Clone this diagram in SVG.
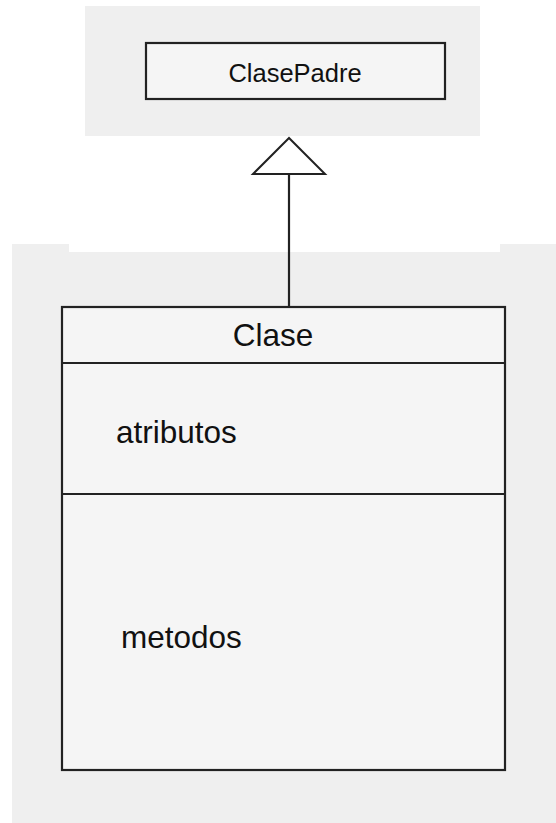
<svg xmlns="http://www.w3.org/2000/svg" width="556" height="823" viewBox="0 0 556 823">
  <style>
    .panel { fill: #efefef; }
    .box { fill: #f5f5f5; stroke: #222222; stroke-width: 2.2; }
    .rule { stroke: #222222; stroke-width: 2.2; fill: none; }
    .lbl { font-family: "Liberation Sans", Arial, sans-serif; fill: #111; }
  </style>
  <rect width="556" height="823" fill="#ffffff"/>

  <!-- background panels -->
  <rect class="panel" x="85" y="6" width="395" height="130"/>
  <path class="panel" d="M12 244 H69 V252 H500 V244 H556 V823 H12 Z"/>

  <!-- parent class -->
  <g id="clase-padre">
    <rect class="box" x="146" y="43" width="299" height="56"/>
    <text class="lbl" x="295" y="82" font-size="25.5" text-anchor="middle">ClasePadre</text>
  </g>

  <!-- child class with attribute and method compartments -->
  <g id="clase">
    <rect class="box" x="62" y="307" width="443" height="463"/>
    <line class="rule" x1="62" y1="363" x2="505" y2="363"/>
    <line class="rule" x1="62" y1="494" x2="505" y2="494"/>
    <text class="lbl" x="273" y="346" font-size="31.5" text-anchor="middle">Clase</text>
    <text class="lbl" x="116" y="443" font-size="31.5">atributos</text>
    <text class="lbl" x="121" y="648" font-size="31.5">metodos</text>
  </g>

  <!-- generalization connector -->
  <g id="connectors">
    <line class="rule" x1="289" y1="174" x2="289" y2="307"/>
    <polygon points="289,138 253,174 325,174" fill="#ffffff" stroke="#222222" stroke-width="2" stroke-linejoin="miter"/>
  </g>
</svg>
